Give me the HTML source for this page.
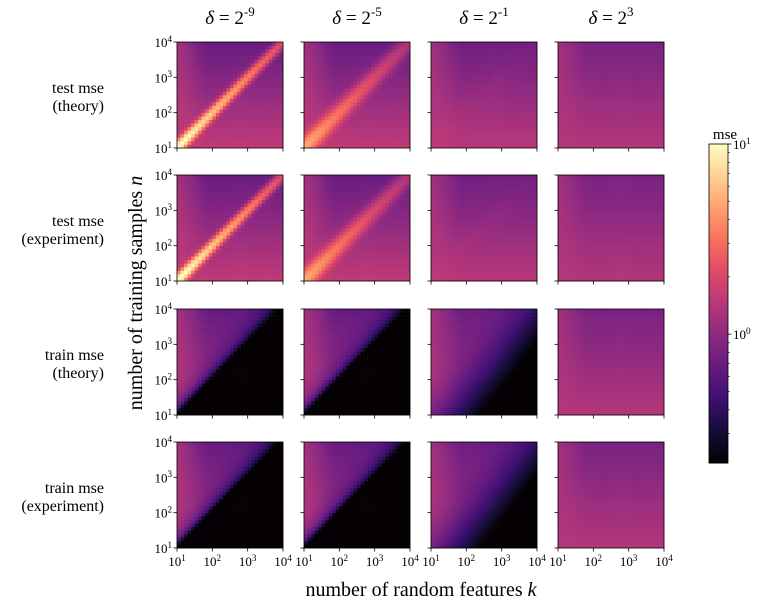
<!DOCTYPE html>
<html><head><meta charset="utf-8"><style>
html,body{margin:0;padding:0;background:#fff;}
svg{display:block;font-family:"Liberation Serif",serif;}
</style></head><body>
<svg id="fig" width="762" height="609" viewBox="0 0 762 609" xmlns="http://www.w3.org/2000/svg"></svg>
<script>
// ---- data ----
const deltaLabels = ["-9", "-5", "-1", "3"];
const rowTitles = [["test mse","(theory)"],["test mse","(experiment)"],["train mse","(theory)"],["train mse","(experiment)"]];
const rowKinds = ["test","test","train","train"];
const diagPeakLog = [1.0, 0.55, -1.2, -3];      // log10 amplitude of interpolation peak at k=10
const diagPeakSlope = [0.28, 0.25, 0.1, 0];      // decay of peak per decade
const diagWidth = [0.12, 0.2, 0.3, 0.3];        // width in decades
const baseLog = [0.2, 0.2, 0.17, 0.15];          // log10 mse at bottom
const baseDrop = [0.12, 0.12, 0.1, 0.08];        // drop per decade of n
const trainShrink = [1, 1, 3, 0];               // train mse shrink factor vs k/n
const trainPower = [1, 1, 0.45, 0];
const trainSharp = [true, true, false, false];
const cbTicks = [1, 0];
const axisTicks = [1, 2, 3, 4];
const nCells = 30;
const vmin = 0.21, vmax = 10;

const magma = [[0,4,0,4],[0.1,20,14,54],[0.2,59,15,112],[0.3,100,26,128],[0.4,140,41,129],[0.5,183,55,121],[0.6,222,73,104],[0.7,247,112,92],[0.8,254,159,109],[0.9,254,207,146],[1,252,253,191]];
function cmap(t){t=Math.max(0,Math.min(1,t));for(let i=1;i<magma.length;i++){if(t<=magma[i][0]){const a=magma[i-1],b=magma[i],f=(t-a[0])/(b[0]-a[0]);return `rgb(${Math.round(a[1]+f*(b[1]-a[1]))},${Math.round(a[2]+f*(b[2]-a[2]))},${Math.round(a[3]+f*(b[3]-a[3]))})`;}}return "rgb(252,253,191)";}
function tOf(v){const l=Math.log10(Math.max(v,1e-6));return (l-Math.log10(vmin))/(Math.log10(vmax)-Math.log10(vmin));}

function value(row,col,x,y){
  const f=Math.max(0,Math.min(1,(x-1)/1.2+0.3));
  const L=Math.pow(10,baseLog[col]-baseDrop[col]*(y-1)*f);
  if(rowKinds[row]==="test"){
    const A=Math.pow(10,diagPeakLog[col]-diagPeakSlope[col]*(x-1));
    return L+A*Math.exp(-Math.pow(x-y,2)/(2*diagWidth[col]*diagWidth[col]));
  } else {
    const r=Math.pow(10,x-y);
    if(trainSharp[col]) return y>x ? L*Math.max(0,1-r)+0.001 : 0.001;
    return L/Math.pow(1+trainShrink[col]*r,trainPower[col]);
  }
}

// ---- layout ----
const svg=document.getElementById('fig');
const NS="http://www.w3.org/2000/svg";
function el(tag,attrs,parent){const e=document.createElementNS(NS,tag);for(const k in attrs)e.setAttribute(k,attrs[k]);(parent||svg).appendChild(e);return e;}
const colX=[177,304,431,558], rowY=[42,175,309,442], P=106;
function pow10Label(parent,x,y,exp,anchor,size){
  const t=el('text',{x:x,y:y,'text-anchor':anchor,'font-size':size,fill:'#000'},parent);
  t.appendChild(document.createTextNode('10'));
  const s=el('tspan',{'font-size':size*0.7,dy:-size*0.4},t);s.textContent=exp;
  return t;
}

for(let c=0;c<4;c++){
  const t=el('text',{x:colX[c]+P/2,y:24,'text-anchor':'middle','font-size':19});
  
  
  const a=el('tspan',{'font-style':'italic'},t);a.textContent='δ';
  const b=el('tspan',{},t);b.textContent=' = 2';
  const e=el('tspan',{'font-size':13,dy:-8},t);e.textContent=deltaLabels[c];
}
for(let r=0;r<4;r++){
  const g=el('g',{});
  
  
  const cy=rowY[r]+P/2;
  el('text',{x:104,y:cy-2,'text-anchor':'end','font-size':16},g).textContent=rowTitles[r][0];
  el('text',{x:104,y:cy+16,'text-anchor':'end','font-size':16},g).textContent=rowTitles[r][1];
}
const yl=el('text',{x:0,y:0,'text-anchor':'middle','font-size':20,transform:'translate(142,293) rotate(-90)'});


yl.appendChild(document.createTextNode('number of training samples '));
el('tspan',{'font-style':'italic'},yl).textContent='n';
const xl=el('text',{x:421,y:596,'text-anchor':'middle','font-size':20});


xl.appendChild(document.createTextNode('number of random features '));
el('tspan',{'font-style':'italic'},xl).textContent='k';

const cs=P/nCells;
for(let r=0;r<4;r++)for(let c=0;c<4;c++){
  const g=el('g',{});
  
  
  const x0=colX[c],y0=rowY[r];
  for(let i=0;i<nCells;i++)for(let j=0;j<nCells;j++){
    const lx=1+3*(i+0.5)/nCells, ly=1+3*(j+0.5)/nCells;
    const v=value(r,c,lx,ly);
    el('rect',{x:(x0+i*cs).toFixed(2),y:(y0+P-(j+1)*cs).toFixed(2),width:(cs+0.3).toFixed(2),height:(cs+0.3).toFixed(2),fill:cmap(tOf(v))},g);
  }
  el('rect',{x:x0,y:y0,width:P,height:P,fill:'none',stroke:'#000','stroke-width':0.8},g);
  for(const tk of axisTicks){
    const px=x0+(tk-1)/3*P, py=y0+P-(tk-1)/3*P;
    el('line',{x1:px,y1:y0+P,x2:px,y2:y0+P+3.5,stroke:'#000','stroke-width':0.8},g);
    el('line',{x1:x0,y1:py,x2:x0-3.5,y2:py,stroke:'#000','stroke-width':0.8},g);
    if(c===0) pow10Label(g,x0-5,py+5,tk,'end',13);
    if(r===3) pow10Label(g,px,y0+P+18,tk,'middle',13);
  }
}

// colorbar
const cb=el('g',{});


const cbx=709,cby=144,cbw=19,cbh=319;
for(let i=0;i<160;i++){
  el('rect',{x:cbx,y:(cby+cbh*i/160).toFixed(2),width:cbw,height:(cbh/160+0.5).toFixed(2),fill:cmap(1-i/160)},cb);
}
el('rect',{x:cbx,y:cby,width:cbw,height:cbh,fill:'none',stroke:'#000','stroke-width':0.8},cb);
const lmin=Math.log10(vmin),lmax=Math.log10(vmax);
function cbY(l){return cby+cbh*(lmax-l)/(lmax-lmin);}
for(const tk of cbTicks){
  const y=cbY(tk);
  el('line',{x1:cbx+cbw,y1:y,x2:cbx+cbw+3.5,y2:y,stroke:'#000','stroke-width':0.8},cb);
  pow10Label(cb,cbx+cbw+5,y+5,tk,'start',13);
}
for(let d=-1;d<=0;d++)for(let m=2;m<=9;m++){
  const l=d+Math.log10(m); if(l<lmin)continue;
  const y=cbY(l);
  el('line',{x1:cbx+cbw,y1:y,x2:cbx+cbw+2,y2:y,stroke:'#000','stroke-width':0.6},cb);
}
const cbl=el('text',{x:725,y:139,'text-anchor':'middle','font-size':15});


cbl.textContent='mse';
</script>
</body></html>
